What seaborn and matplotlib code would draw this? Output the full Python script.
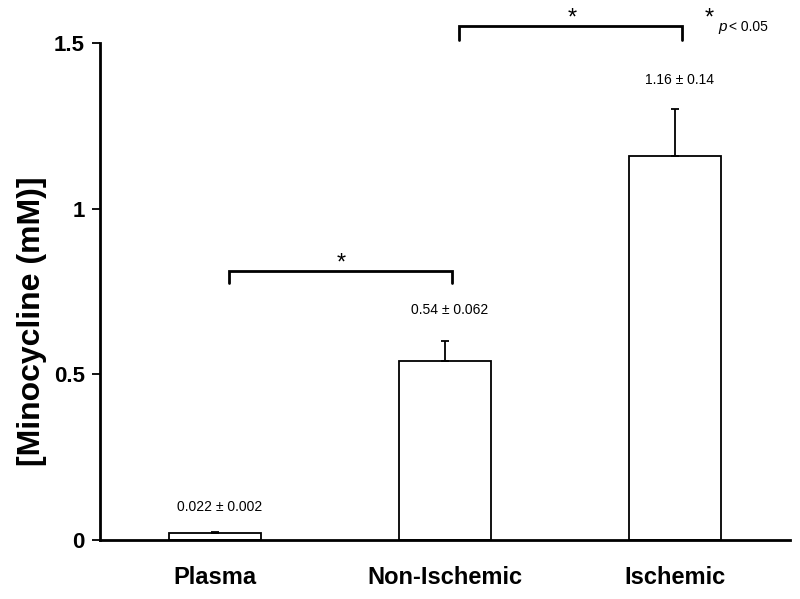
import numpy as np
import pandas as pd
import matplotlib
matplotlib.use("Agg")
import matplotlib.pyplot as plt
import seaborn as sns

# data
groups = ["Plasma", "Non-Ischemic", "Ischemic"]
means = [0.022, 0.54, 1.16]
sems = [0.002, 0.062, 0.14]
labels = ["0.022 \u00b1 0.002", "0.54 \u00b1 0.062", "1.16 \u00b1 0.14"]

sns.set_style("ticks")
plt.rcParams['font.family'] = ['Liberation Sans', 'DejaVu Sans']
for key in ["text.color", "axes.labelcolor", "xtick.color", "ytick.color", "axes.edgecolor"]:
    plt.rcParams[key] = "black"

df = pd.DataFrame({"group": groups, "conc": means})

fig = plt.figure(figsize=(8, 5.99), dpi=100)
ax = fig.add_axes([0.125, 0.0985, 0.8625, 0.8295])

sns.barplot(data=df, x="group", y="conc", color="white", edgecolor="black",
            linewidth=1.3, width=0.4, errorbar=None, ax=ax)

xpos = np.arange(len(groups))
ax.errorbar(xpos, means, yerr=[np.zeros(len(sems)), sems], fmt="none",
            ecolor="black", elinewidth=1.3, capsize=3, capthick=1.3)

# value labels above the bars
label_y = [0.10, 0.695, 1.39]
for x, y, t in zip(xpos, label_y, labels):
    ax.text(x + 0.02, y, t, ha="center", va="center", fontsize=10)

# significance brackets
def bracket(x1, x2, ytop, ybot, star_x, star_y):
    ax.plot([x1, x1, x2, x2], [ybot, ytop, ytop, ybot], color="black",
            lw=2, clip_on=False, solid_joinstyle="miter")
    ax.text(star_x, star_y, "*", ha="center", va="center", fontsize=17, clip_on=False)

bracket(0.06, 1.03, 0.813, 0.776, 0.55, 0.835)
bracket(1.06, 2.03, 1.553, 1.51, 1.555, 1.575)
ax.text(2.15, 1.575, "*", ha="center", va="center", fontsize=17, clip_on=False)
ax.text(2.19, 1.55, "p", ha="left", va="center", fontsize=11, style="italic", clip_on=False)
ax.text(2.235, 1.55, "< 0.05", ha="left", va="center", fontsize=10, clip_on=False)

ax.set_xlim(-0.5, 2.5)
ax.set_ylim(0, 1.5)
ax.set_yticks([0, 0.5, 1, 1.5])
ax.set_yticklabels(["0", "0.5", "1", "1.5"])
ax.set_xlabel("")
ax.set_ylabel("[Minocycline (mM)]", fontsize=23, fontweight="bold")
ax.yaxis.set_label_coords(-0.077, 0.44)

ax.tick_params(axis="y", direction="out", length=6, width=1.3, labelsize=16, pad=5)
ax.tick_params(axis="x", length=0, pad=19, labelsize=17)
for lab in ax.get_xticklabels() + ax.get_yticklabels():
    lab.set_fontweight("bold")
sns.despine(ax=ax)
ax.spines["left"].set_linewidth(2)
ax.spines["bottom"].set_linewidth(2)

fig.savefig("out.png", dpi=100)
